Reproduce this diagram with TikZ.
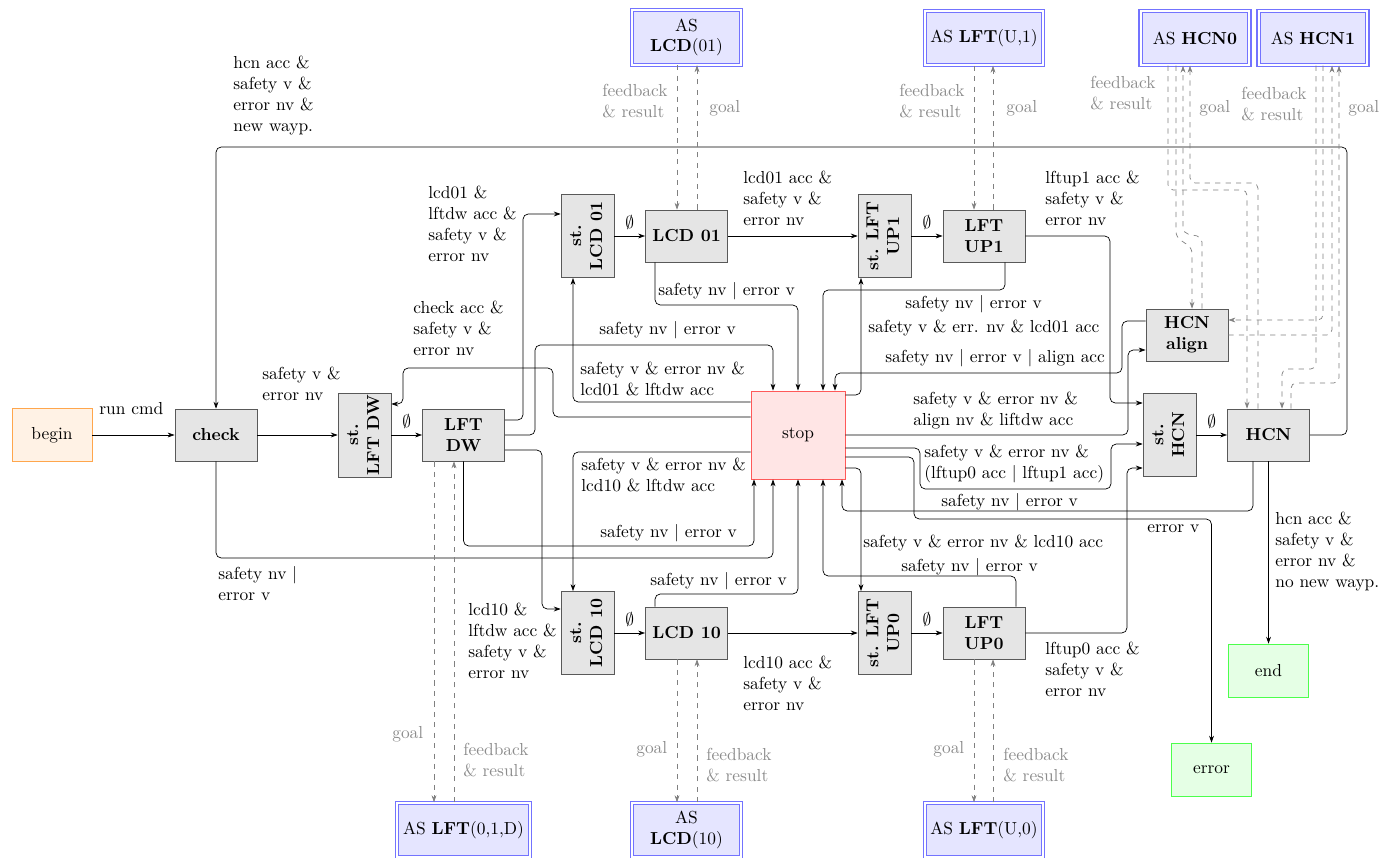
\documentclass[tikz,border=0pt]{standalone}
\usepackage{graphicx}
\usetikzlibrary{arrows.meta}

\newcommand{\rotlabel}[2]{\rotatebox{90}{\begin{tabular}{@{}c@{}}#1\\#2\end{tabular}}}

\begin{document}
\begin{tikzpicture}[
  x=0.575pt, y=-0.575pt,
  statebox/.style={rectangle, draw=black!65, fill=gray!20, align=center,
                   minimum width=1.66cm, minimum height=1.05cm, font=\bfseries},
  stbox/.style={rectangle, draw=black!65, fill=gray!20, inner sep=1pt,
                minimum width=1.07cm, minimum height=1.68cm, font=\bfseries},
  stopbox/.style={rectangle, draw=red!65, fill=red!10,
                  minimum width=1.9cm, minimum height=1.78cm},
  termbox/.style={rectangle, draw=#1!70, fill=#1!10,
                  minimum width=1.62cm, minimum height=1.07cm},
  asbox/.style={rectangle, draw=blue!55, line width=0.6pt, double=white,
                double distance=1.2pt, fill=blue!10,
                align=center, minimum width=2.2cm, minimum height=1.1cm},
  arr/.style={-{Stealth[length=4pt, width=2.8pt]}, rounded corners=3pt},
  darr/.style={arr, dashed, black!50},
  lbl/.style={anchor=north west, inner sep=0pt, align=left},
  dlbl/.style={lbl, text=black!45}
]
\useasboundingbox (0,0) rectangle (1394,858);

% --- Main row ---
\node[termbox=orange] (begin) at (52,435) {begin};
\node[statebox] (check)    at (216,435)    {check};
\node[stbox]    (stlftdw)  at (364.5,435)  {\rotlabel{st.}{LFT DW}};
\node[statebox] (lftdw)    at (463.5,435)  {LFT\\DW};
\node[stopbox]  (stop)     at (798,435)    {stop};
\node[stbox]    (sthcn)    at (1169.5,435) {\rotlabel{st.}{HCN}};
\node[statebox] (hcn)      at (1268.5,435) {HCN};
\node[statebox] (hcnalign) at (1187,335)   {HCN\\align};

% --- Upper row ---
\node[stbox]    (stlcd01)  at (587.5,236) {\rotlabel{st.}{LCD 01}};
\node[statebox] (lcd01)    at (686.5,236) {LCD 01};
\node[stbox]    (stlftup1) at (884.5,236) {\rotlabel{st. LFT}{UP1}};
\node[statebox] (lftup1)   at (984,236)   {LFT\\UP1};

% --- Lower row ---
\node[stbox]    (stlcd10)  at (587.5,633) {\rotlabel{st.}{LCD 10}};
\node[statebox] (lcd10)    at (686.5,633) {LCD 10};
\node[stbox]    (stlftup0) at (884.5,633) {\rotlabel{st. LFT}{UP0}};
\node[statebox] (lftup0)   at (984,633)   {LFT\\UP0};

\node[termbox=green] (finish) at (1268.5,670.5) {end};
\node[termbox=green] (err)    at (1211.5,769.5) {error};

% --- Action servers ---
\node[asbox] (aslcd01) at (686.5,37.5) {AS\\\textbf{LCD}(01)};
\node[asbox] (aslftu1) at (984,38)     {AS \textbf{LFT}(U,1)};
\node[asbox] (ashcn0)  at (1195,38)    {AS \textbf{HCN0}};
\node[asbox] (ashcn1)  at (1313,38)    {AS \textbf{HCN1}};
\node[asbox] (aslftdw) at (463.5,830) {AS \textbf{LFT}(0,1,D)};
\node[asbox] (aslcd10) at (686.5,830) {AS\\\textbf{LCD}(10)};
\node[asbox] (aslftu0) at (984,830)   {AS \textbf{LFT}(U,0)};

% --- Transitions ---
\draw[arr] (begin) -- (check) node[lbl] at (99,402) {run cmd};
\draw[arr] (check) -- (stlftdw) node[lbl] at (262,367) {safety v \&\\error nv};
\draw[arr] (stlftdw) -- node[above] {$\emptyset$} (lftdw);
\draw[arr] (lftdw.east |- 0,420) -- (523,420) |- (stlcd01.west |- 0,214)
  node[lbl] at (428,186) {lcd01 \&\\lftdw acc \&\\safety v \&\\error nv};
\draw[arr] (lftdw.east) -- (535,435) |- (773,345) -- (stop.north -| 773,0)
  node[lbl] at (599,321) {safety nv $|$ error v};
\draw[arr] (lftdw.east |- 0,450) -- (542,450) |- (stlcd10.west |- 0,609)
  node[lbl] at (468,603) {lcd10 \&\\lftdw acc \&\\safety v \&\\error nv};
\draw[arr] (lftdw.south) |- (754,546) -- (stop.south -| 754,0)
  node[lbl] at (600,524) {safety nv $|$ error v};
\draw[arr] (check.south) |- (773,558) -- (stop.south -| 773,0)
  node[lbl] at (218,566) {safety nv $|$\\error v};
\draw[arr] (stop.west |- 0,417) -- (553,417) |- (403,368) |- (stlftdw.east |- 0,404)
  node[lbl] at (413,301) {check acc \&\\safety v \&\\error nv};
\draw[arr] (stop.west |- 0,402) -| (stlcd01.south -| 573,0)
  node[lbl] at (580,362) {safety v \& error nv \&\\lcd01 \& lftdw acc};
\draw[arr] (lcd01.south -| 655,0) |- (798,305) -- (stop.north)
  node[lbl] at (658,282) {safety nv $|$ error v};
\draw[arr] (stop.west |- 0,452) -| (stlcd10.north -| 573,0)
  node[lbl] at (581,458) {safety v \& error nv \&\\lcd10 \& lftdw acc};
\draw[arr] (lcd10.north -| 655,0) |- (798,594) -- (stop.south)
  node[lbl] at (650,572) {safety nv $|$ error v};

\draw[arr] (stlcd01) -- node[above] {$\emptyset$} (lcd01);
\draw[arr] (lcd01) -- (stlftup1) node[lbl] at (743,171) {lcd01 acc \&\\safety v \&\\error nv};
\draw[arr] (stlftup1) -- node[above] {$\emptyset$} (lftup1);
\draw[arr] (lftup1.south -| 1005,0) |- (823,290) -- (stop.north -| 823,0)
  node[lbl] at (905,295) {safety nv $|$ error v};
\draw[arr] (stop.east |- 0,395) -| (stlftup1.south -| 861,0)
  node[lbl] at (868,320) {safety v \& err. nv \& lcd01 acc};
\draw[arr] (hcnalign.west |- 0,321) -- (1122,321) |- (835,373) -- (stop.north -| 835,0)
  node[lbl] at (885,349) {safety nv $|$ error v $|$ align acc};
\draw[arr] (lftup1.east) -- (1110,236) |- (sthcn.west |- 0,403)
  node[lbl] at (1045,171) {lftup1 acc \&\\safety v \&\\error nv};
\draw[arr] (stop.east) -- (1128,435) |- (hcnalign.west |- 0,350)
  node[lbl] at (913,392) {safety v \& error nv \&\\align nv \& liftdw acc};
\draw[arr] (stop.east |- 0,448) -- (920,448) |- (1111,489) |- (sthcn.west |- 0,444)
  node[lbl] at (924,445) {safety v \& error nv \&\\(lftup0 acc $|$ lftup1 acc)};
\draw[arr] (hcn.south -| 1253,0) |- (842,511) -- (stop.south -| 842,0)
  node[lbl] at (941,493) {safety nv $|$ error v};
\draw[arr] (stop.east |- 0,457) -- (914,457) |- (1211.5,519) -- (err.north)
  node[lbl] at (1147,524) {error v};
\draw[arr] (stop.east |- 0,468) -| (stlftup0.north -| 861,0)
  node[lbl] at (863,535) {safety v \& error nv \& lcd10 acc};
\draw[arr] (lftup0.north -| 1016,0) |- (823,576) -- (stop.south -| 823,0)
  node[lbl] at (901,558) {safety nv $|$ error v};

\draw[arr] (stlcd10) -- node[above] {$\emptyset$} (lcd10);
\draw[arr] (lcd10) -- (stlftup0) node[lbl] at (743,656) {lcd10 acc \&\\safety v \&\\error nv};
\draw[arr] (stlftup0) -- node[above] {$\emptyset$} (lftup0);
\draw[arr] (lftup0.east) -- (1127,633) |- (sthcn.west |- 0,468)
  node[lbl] at (1045,642) {lftup0 acc \&\\safety v \&\\error nv};
\draw[arr] (sthcn) -- node[above] {$\emptyset$} (hcn);
\draw[arr] (hcn.east) -- (1347,435) |- (216,147) -- (check.north)
  node[lbl] at (233,56) {hcn acc \&\\safety v \&\\error nv \&\\new wayp.};
\draw[arr] (hcn) -- (finish)
  node[lbl] at (1275,512) {hcn acc \&\\safety v \&\\error nv \&\\no new wayp.};

% --- Action server links ---
\draw[darr] (aslcd01.south -| 677,0) -- (lcd01.north -| 677,0) node[dlbl] at (602,84) {feedback\\\& result};
\draw[darr] (lcd01.north -| 697,0) -- (aslcd01.south -| 697,0) node[dlbl] at (709,100) {goal};
\draw[darr] (aslftu1.south -| 974,0) -- (lftup1.north -| 974,0) node[dlbl] at (899,84) {feedback\\\& result};
\draw[darr] (lftup1.north -| 993,0) -- (aslftu1.south -| 993,0) node[dlbl] at (1006,100) {goal};
\draw[darr] (lftdw.south -| 434,0) -- (aslftdw.north -| 434,0) node[dlbl] at (392,726) {goal};
\draw[darr] (aslftdw.north -| 454,0) -- (lftdw.south -| 454,0) node[dlbl] at (463,743) {feedback\\\& result};
\draw[darr] (lcd10.south -| 677,0) -- (aslcd10.north -| 677,0) node[dlbl] at (636,741) {goal};
\draw[darr] (aslcd10.north -| 697,0) -- (lcd10.south -| 697,0) node[dlbl] at (706,748) {feedback\\\& result};
\draw[darr] (lftup0.south -| 974,0) -- (aslftu0.north -| 974,0) node[dlbl] at (933,741) {goal};
\draw[darr] (aslftu0.north -| 993,0) -- (lftup0.south -| 993,0) node[dlbl] at (1003,748) {feedback\\\& result};

\draw[darr] (ashcn0.south -| 1168,0) |- (1247,190) -- (hcn.north -| 1247,0)
  node[dlbl] at (1090,76) {feedback\\\& result};
\draw[darr] (hcn.north -| 1258,0) |- (1190,183) -- (ashcn0.south -| 1190,0)
  node[dlbl] at (1199,100) {goal};
\draw[darr] (ashcn0.south -| 1176,0) -- (1176,237) -- (1192,248) -- (hcnalign.north -| 1192,0);
\draw[darr] (hcnalign.north -| 1202,0) -- (1202,237) -- (1183,233) -- (ashcn0.south -| 1183,0);
\draw[darr] (ashcn1.south -| 1316,0) |- (1282,369) -- (hcn.north -| 1282,0)
  node[dlbl] at (1241,87) {feedback\\\& result};
\draw[darr] (ashcn1.south -| 1323,0) |- (hcnalign.east |- 0,320);
\draw[darr] (hcnalign.east |- 0,335) -| (ashcn1.south -| 1332,0);
\draw[darr] (hcn.north -| 1291,0) |- (1339,383) -- (ashcn1.south -| 1339,0)
  node[dlbl] at (1348,100) {goal};

\end{tikzpicture}
\end{document}
